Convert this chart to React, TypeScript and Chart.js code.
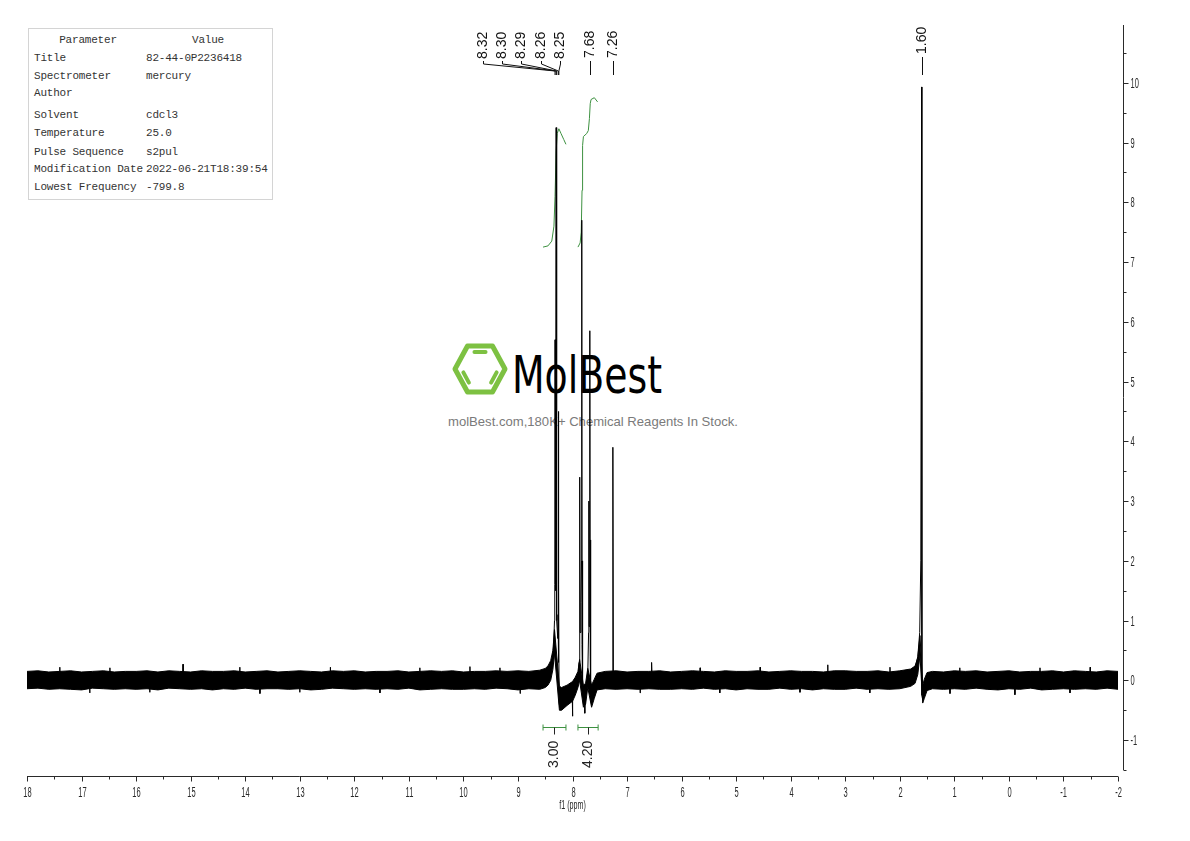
import React, { useEffect, useRef } from "react";
import { Chart, registerables } from "chart.js";
Chart.register(...registerables);

// ---------- tick labels ----------
const xTickLabels = [18, 17, 16, 15, 14, 13, 12, 11, 10, 9, 8, 7, 6, 5, 4, 3, 2, 1, 0, -1, -2];
const yTickLabels = [-1, 0, 1, 2, 3, 4, 5, 6, 7, 8, 9, 10];
const xAxisTitle = "f1 (ppm)";

// ---------- baseline noise envelope: [ppm, upper, lower] ----------
const noiseBand: [number, number, number][] = [
  [18.0, 0.15, -0.14], [17.8, 0.16, -0.13], [17.6, 0.14, -0.15], [17.4, 0.15, -0.14],
  [17.2, 0.16, -0.15], [17.0, 0.14, -0.16], [16.8, 0.15, -0.13], [16.6, 0.16, -0.14],
  [16.4, 0.14, -0.15], [16.2, 0.15, -0.14], [16.0, 0.15, -0.15], [15.8, 0.16, -0.14],
  [15.6, 0.14, -0.16], [15.4, 0.16, -0.13], [15.2, 0.15, -0.14], [15.0, 0.14, -0.15],
  [14.8, 0.16, -0.14], [14.6, 0.15, -0.16], [14.4, 0.15, -0.14], [14.2, 0.16, -0.15],
  [14.0, 0.14, -0.13], [13.8, 0.15, -0.15], [13.6, 0.16, -0.14], [13.4, 0.14, -0.14],
  [13.2, 0.15, -0.15], [13.0, 0.16, -0.14], [12.8, 0.15, -0.16], [12.6, 0.14, -0.15],
  [12.4, 0.16, -0.13], [12.2, 0.15, -0.14], [12.0, 0.16, -0.15], [11.8, 0.14, -0.14],
  [11.6, 0.15, -0.15], [11.4, 0.15, -0.14], [11.2, 0.16, -0.15], [11.0, 0.14, -0.13],
  [10.8, 0.15, -0.16], [10.6, 0.16, -0.15], [10.4, 0.15, -0.14], [10.2, 0.16, -0.15],
  [10.0, 0.14, -0.15], [9.8, 0.15, -0.14], [9.6, 0.15, -0.15], [9.4, 0.16, -0.13],
  [9.2, 0.15, -0.14], [9.0, 0.16, -0.16], [8.8, 0.15, -0.14], [8.6, 0.17, -0.15],
  [8.5, 0.2, -0.12], [8.45, 0.24, -0.08], [8.4, 0.33, 0.0], [8.36, 0.5, 0.18], [8.33, 0.85, 0.45],
  [8.24, -0.1, -0.5], [8.2, -0.12, -0.5], [8.1, -0.08, -0.42], [8.0, -0.02, -0.35],
  [7.95, 0.05, -0.25], [7.9, 0.15, -0.12], [7.87, 0.35, 0.0],
  [7.8, -0.08, -0.45], [7.76, -0.05, -0.4], [7.72, 0.2, -0.12],
  [7.65, -0.08, -0.45], [7.6, 0.02, -0.3], [7.55, 0.12, -0.16],
  [7.4, 0.15, -0.14], [7.2, 0.16, -0.15], [7.0, 0.14, -0.14], [6.8, 0.15, -0.15],
  [6.6, 0.15, -0.14], [6.4, 0.16, -0.15], [6.2, 0.14, -0.15], [6.0, 0.15, -0.14],
  [5.8, 0.16, -0.15], [5.6, 0.15, -0.13], [5.4, 0.14, -0.15], [5.2, 0.16, -0.14],
  [5.0, 0.15, -0.16], [4.8, 0.15, -0.14], [4.6, 0.16, -0.15], [4.4, 0.14, -0.15],
  [4.2, 0.15, -0.13], [4.0, 0.16, -0.15], [3.8, 0.15, -0.14], [3.6, 0.15, -0.16],
  [3.4, 0.14, -0.14], [3.2, 0.16, -0.15], [3.0, 0.16, -0.15], [2.8, 0.15, -0.13],
  [2.6, 0.15, -0.15], [2.4, 0.16, -0.14], [2.2, 0.14, -0.15], [2.0, 0.16, -0.14],
  [1.8, 0.19, -0.1],
  [1.72, 0.24, -0.05], [1.67, 0.38, 0.1], [1.63, 0.75, 0.42],
  [1.58, -0.08, -0.38], [1.55, 0.02, -0.3], [1.5, 0.13, -0.17],
  [1.4, 0.15, -0.14], [1.2, 0.14, -0.15], [1.0, 0.16, -0.14], [0.8, 0.15, -0.15],
  [0.6, 0.16, -0.13], [0.4, 0.14, -0.15], [0.2, 0.15, -0.16], [0.0, 0.16, -0.14],
  [-0.2, 0.14, -0.15], [-0.4, 0.15, -0.13], [-0.6, 0.15, -0.16], [-0.8, 0.16, -0.15],
  [-1.0, 0.14, -0.14], [-1.2, 0.16, -0.15], [-1.4, 0.15, -0.14], [-1.6, 0.14, -0.15],
  [-1.8, 0.16, -0.13], [-2.0, 0.15, -0.15],
];

// ---------- spectrum trace (peaks and noise spikes): [ppm, intensity] ----------
const spectrum: [number, number][] = [
  [18.0, 0.0], [17.404, 0.0], [17.4, 0.22], [17.396, 0.0], [16.854, 0.0], [16.85, -0.21], [16.846, 0.0],
  [16.484, 0.0], [16.48, 0.21], [16.476, 0.0], [15.754, 0.0], [15.75, -0.2], [15.746, 0.0],
  [15.144, 0.0], [15.14, 0.27], [15.136, 0.0], [14.104, 0.0], [14.1, 0.22], [14.096, 0.0],
  [13.734, 0.0], [13.73, -0.22], [13.726, 0.0], [13.004, 0.0], [13.0, -0.2], [12.996, 0.0],
  [12.444, 0.0], [12.44, 0.22], [12.436, 0.0], [11.534, 0.0], [11.53, -0.21], [11.526, 0.0],
  [10.804, 0.0], [10.8, 0.21], [10.796, 0.0], [9.884, 0.0], [9.88, 0.23], [9.876, 0.0],
  [9.334, 0.0], [9.33, 0.21], [9.326, 0.0], [8.964, 0.0], [8.96, -0.22], [8.956, 0.0],
  [8.5, 0.05], [8.42, 0.15], [8.37, 0.3], [8.345, 0.6], [8.33, 1.0], [8.325, 1.6],
  [8.32, 5.7], [8.314, 1.5], [8.306, 2.4], [8.3, 9.25], [8.296, 1.6], [8.29, 4.2],
  [8.285, 1.0], [8.27, 0.7], [8.265, 1.1], [8.26, 4.5], [8.256, 0.3], [8.25, 1.6],
  [8.246, -0.35], [8.235, -0.45], [8.2, -0.4], [8.1, -0.3], [8.005, -0.25], [8.0, -0.6],
  [7.995, -0.25], [7.95, -0.12], [7.9, 0.05], [7.88, 0.3], [7.87, 0.6], [7.865, 3.4],
  [7.86, 0.8], [7.845, 1.3], [7.835, 2.0], [7.83, 7.7], [7.825, 0.6], [7.818, 2.0],
  [7.812, -0.2], [7.8, -0.3], [7.78, -0.35], [7.775, -0.55], [7.77, -0.3], [7.75, -0.22],
  [7.72, 0.1], [7.705, 0.8], [7.7, 3.0], [7.695, 0.9], [7.685, 1.5], [7.68, 5.85],
  [7.675, 0.4], [7.67, 2.35], [7.665, -0.3], [7.65, -0.4], [7.62, -0.25], [7.58, -0.1],
  [7.5, 0.0], [7.27, 0.05], [7.26, 3.9], [7.25, 0.0],
  [6.764, 0.0], [6.76, -0.21], [6.756, 0.0], [6.56, 0.05], [6.55, 0.3], [6.54, 0.0],
  [5.664, 0.0], [5.66, 0.21], [5.656, 0.0], [5.304, 0.0], [5.3, -0.21], [5.296, 0.0],
  [4.564, 0.0], [4.56, 0.22], [4.556, 0.0], [3.834, 0.0], [3.83, -0.2], [3.826, 0.0],
  [3.324, 0.0], [3.32, 0.26], [3.316, 0.0], [2.554, 0.0], [2.55, -0.21], [2.546, 0.0],
  [2.184, 0.0], [2.18, 0.22], [2.176, 0.0],
  [1.8, 0.05], [1.72, 0.2], [1.67, 0.4], [1.635, 0.8], [1.615, 2.0], [1.6, 9.93],
  [1.595, -0.25], [1.58, -0.32], [1.55, -0.18], [1.5, 0.0],
  [1.084, 0.0], [1.08, -0.22], [1.076, 0.0], [0.904, 0.0], [0.9, 0.21], [0.896, 0.0],
  [-0.106, 0.0], [-0.11, -0.24], [-0.114, 0.0], [-0.566, 0.0], [-0.57, 0.21], [-0.574, 0.0],
  [-1.116, 0.0], [-1.12, -0.21], [-1.124, 0.0], [-1.486, 0.0], [-1.49, 0.22], [-1.494, 0.0],
  [-2.0, 0.0],
];

// ---------- integral curves: [ppm, level] ----------
const integral1: [number, number][] = [
  [8.54, 7.25], [8.45, 7.27], [8.38, 7.35], [8.34, 7.6], [8.32, 8.1], [8.3, 8.85],
  [8.28, 9.15], [8.25, 9.23], [8.21, 9.15], [8.16, 9.05], [8.12, 8.97],
];
const integral2: [number, number][] = [
  [7.9, 7.25], [7.86, 7.32], [7.84, 7.5], [7.825, 8.2], [7.815, 8.95], [7.8, 9.1],
  [7.74, 9.15], [7.71, 9.2], [7.69, 9.4], [7.675, 9.65], [7.66, 9.72], [7.6, 9.75], [7.54, 9.68],
];
const integralRanges: [number, number][] = [[8.54, 8.12], [7.9, 7.53]];
const integralValues = ["3.00", "4.20"];

// ---------- peak picking labels ----------
const peakGroupLabels = [8.32, 8.3, 8.29, 8.26, 8.25];
const peakSingleLabels = [7.68, 7.26, 1.6];

// ---------- parameter table ----------
const paramNames = ["Title", "Spectrometer", "Author", "Solvent", "Temperature", "Pulse Sequence", "Modification Date", "Lowest Frequency"];
const paramValues = ["82-44-0P2236418", "mercury", "", "cdcl3", "25.0", "s2pul", "2022-06-21T18:39:54", "-799.8"];

const AXIS_COLOR = "#2a2a2a";
const GREEN = "#3d9140";

function condensedText(ctx: CanvasRenderingContext2D, text: string, x: number, y: number, align: CanvasTextAlign, sx = 0.5) {
  ctx.save();
  ctx.translate(x, y);
  ctx.scale(sx, 1);
  ctx.textAlign = align;
  ctx.textBaseline = "middle";
  ctx.fillText(text, 0, 0);
  ctx.restore();
}

function seg(ctx: CanvasRenderingContext2D, pts: number[][]) {
  ctx.beginPath();
  pts.forEach((p, i) => (i === 0 ? ctx.moveTo(p[0], p[1]) : ctx.lineTo(p[0], p[1])));
  ctx.stroke();
}

const nmrPlugin = {
  id: "nmrAxes",
  afterDatasetsDraw(chart: any) {
    const ctx: CanvasRenderingContext2D = chart.ctx;
    const ca = chart.chartArea;
    const xs = chart.scales.x;
    const ys = chart.scales.y;
    ctx.save();
    ctx.lineWidth = 1;
    ctx.strokeStyle = AXIS_COLOR;
    ctx.fillStyle = AXIS_COLOR;

    // ---- X axis ----
    const axY = Math.round(ca.bottom + 6) + 0.5;
    const xa = xs.getPixelForValue(xTickLabels[0]);
    const xb = xs.getPixelForValue(xTickLabels[xTickLabels.length - 1]);
    seg(ctx, [[xa, axY], [xb, axY]]);
    ctx.font = '15px "Liberation Sans"';
    xTickLabels.forEach((v, i) => {
      const px = Math.round(xs.getPixelForValue(v)) + 0.5;
      seg(ctx, [[px, axY], [px, axY + 5]]);
      condensedText(ctx, String(v), px, axY + 16, "center");
      if (i < xTickLabels.length - 1) {
        const m = (v + xTickLabels[i + 1]) / 2;
        const pm = Math.round(xs.getPixelForValue(m)) + 0.5;
        seg(ctx, [[pm, axY], [pm, axY + 3]]);
      }
    });
    ctx.font = '13px "Liberation Sans"';
    condensedText(ctx, xAxisTitle, xs.getPixelForValue(8), axY + 29, "center", 0.55);

    // ---- Y axis (right) ----
    const axX = Math.round(ca.right + 5) + 0.5;
    seg(ctx, [[axX, ca.top + 2], [axX, ys.getPixelForValue(-1.5)]]);
    ctx.font = '15px "Liberation Sans"';
    yTickLabels.forEach((v) => {
      const py = Math.round(ys.getPixelForValue(v)) + 0.5;
      seg(ctx, [[axX, py], [axX + 5, py]]);
      condensedText(ctx, String(v), axX + 7, py, "left");
    });
    const yMinor = [yTickLabels[0] - 0.5, ...yTickLabels.map((v) => v + 0.5)];
    yMinor.forEach((v) => {
      const py = Math.round(ys.getPixelForValue(v)) + 0.5;
      seg(ctx, [[axX, py], [axX + 3, py]]);
    });

    // ---- peak labels ----
    ctx.strokeStyle = "#111";
    ctx.fillStyle = "#111";
    ctx.font = '14px "Liberation Sans"';
    const drawRot = (text: string, x: number, yBottom: number) => {
      ctx.save();
      ctx.translate(x, yBottom);
      ctx.rotate(-Math.PI / 2);
      ctx.textAlign = "left";
      ctx.textBaseline = "middle";
      ctx.fillText(text, 0, 0);
      ctx.restore();
    };
    const n = peakGroupLabels.length;
    const anchor = xs.getPixelForValue(peakGroupLabels[n - 1]) + 1;
    peakGroupLabels.forEach((v, i) => {
      const lx = Math.round(anchor - (n - 1 - i) * 19.2) + 0.5;
      const px = xs.getPixelForValue(v);
      drawRot(v.toFixed(2), lx, 59);
      seg(ctx, [[lx, 61], [lx, 64], [px, 71], [px, 75]]);
    });
    peakSingleLabels.forEach((v) => {
      const px = Math.round(xs.getPixelForValue(v)) + 0.5;
      const bottom = v < 3 ? 54 : 58;
      drawRot(v.toFixed(2), px, bottom);
      seg(ctx, [[px, bottom + 3], [px, 75]]);
    });

    // ---- integral brackets ----
    integralRanges.forEach((r, i) => {
      const xA = xs.getPixelForValue(r[0]);
      const xB = xs.getPixelForValue(r[1]);
      const cx = Math.round((xA + xB) / 2) + 0.5;
      const by = 727.5;
      ctx.strokeStyle = GREEN;
      seg(ctx, [[xA, by], [xB, by]]);
      seg(ctx, [[xA, by - 3], [xA, by + 3]]);
      seg(ctx, [[xB, by - 3], [xB, by + 3]]);
      ctx.strokeStyle = "#222";
      seg(ctx, [[cx, by], [cx, by + 7]]);
      ctx.fillStyle = "#222";
      drawRot(integralValues[i], cx, 768);
    });
    ctx.restore();
  },
};

function Watermark() {
  const cx = 480;
  const cy = 369;
  const r = 25;
  const ky = 1.06;
  const verts = [0, 60, 120, 180, 240, 300].map((a) => {
    const t = (a * Math.PI) / 180;
    return [cx + r * Math.cos(t), cy + r * Math.sin(t) * ky];
  });
  const inner = (a: number[], b: number[]) => {
    const s = 0.74;
    const p = [cx + (a[0] - cx) * s, cy + (a[1] - cy) * s];
    const q = [cx + (b[0] - cx) * s, cy + (b[1] - cy) * s];
    const f = 0.2;
    return [p[0] + (q[0] - p[0]) * f, p[1] + (q[1] - p[1]) * f, q[0] + (p[0] - q[0]) * f, q[1] + (p[1] - q[1]) * f];
  };
  const bars = [inner(verts[4], verts[5]), inner(verts[2], verts[3]), inner(verts[0], verts[1])];
  return (
    <svg width={1190} height={841} style={{ position: "absolute", left: 0, top: 0 }}>
      <polygon points={verts.map((v) => v.join(",")).join(" ")} fill="none" stroke="#7dc142" strokeWidth={5} strokeLinejoin="round" />
      {bars.map((b, i) => (
        <line key={i} x1={b[0]} y1={b[1]} x2={b[2]} y2={b[3]} stroke="#7dc142" strokeWidth={4} strokeLinecap="round" />
      ))}
      <text x={512} y={393} fontFamily="DejaVu Sans" fontSize={52} textLength={150} lengthAdjust="spacingAndGlyphs" fill="#000">
        MolBest
      </text>
      <text x={448} y={426} fontFamily="Liberation Sans" fontSize={13} textLength={290} lengthAdjust="spacingAndGlyphs" fill="#7a7a7a">
        molBest.com,180K+ Chemical Reagents In Stock.
      </text>
    </svg>
  );
}

function ParamTable() {
  const rowY = [30, 48, 65, 87, 105, 124, 141, 159];
  const base: React.CSSProperties = {
    position: "absolute",
    lineHeight: "14px",
    whiteSpace: "pre",
    fontFamily: '"Liberation Mono", monospace',
    fontSize: 11,
    letterSpacing: "-0.2px",
    color: "#333",
  };
  return (
    <div style={{ position: "absolute", left: 28, top: 28, width: 243, height: 170, border: "1px solid #d4d4d4", background: "#fff" }}>
      <div style={{ ...base, top: 12 - 8, left: 0, width: 118, textAlign: "center" }}>Parameter</div>
      <div style={{ ...base, top: 12 - 8, left: 118, width: 122, textAlign: "center" }}>Value</div>
      {paramNames.map((nm, i) => (
        <React.Fragment key={nm}>
          <div style={{ ...base, top: rowY[i] - 8, left: 5 }}>{nm}</div>
          <div style={{ ...base, top: rowY[i] - 8, left: 117 }}>{paramValues[i]}</div>
        </React.Fragment>
      ))}
    </div>
  );
}

export default function App() {
  const ref = useRef<HTMLCanvasElement | null>(null);
  useEffect(() => {
    if (!ref.current) return;
    const line = (pts: number[][], color: string) => ({
      data: pts.map((p) => ({ x: p[0], y: p[1] })),
      borderColor: color,
      borderWidth: 1,
      pointRadius: 0,
      fill: false,
      tension: 0,
    });
    const chart = new Chart(ref.current, {
      type: "line",
      data: {
        datasets: [
          {
            data: noiseBand.map((p) => ({ x: p[0], y: p[1] })),
            borderColor: "#000",
            backgroundColor: "#000",
            borderWidth: 1,
            pointRadius: 0,
            fill: "+1",
            tension: 0,
          },
          {
            data: noiseBand.map((p) => ({ x: p[0], y: p[2] })),
            borderColor: "#000",
            borderWidth: 1,
            pointRadius: 0,
            fill: false,
            tension: 0,
          },
          line(spectrum, "#000"),
          line(integral1, GREEN),
          line(integral2, GREEN),
        ] as any,
      },
      options: {
        responsive: false,
        animation: false,
        layout: { padding: { left: 27, right: 72, top: 23, bottom: 71 } },
        scales: {
          x: { type: "linear", reverse: true, min: -2, max: 18, display: false },
          y: { type: "linear", min: -1.5, max: 11, display: false },
        },
        plugins: { legend: { display: false }, tooltip: { enabled: false } },
      },
      plugins: [nmrPlugin],
    });
    return () => chart.destroy();
  }, []);
  return (
    <div style={{ position: "absolute", left: 0, top: 0, width: 1190, height: 841, background: "#fff", overflow: "hidden" }}>
      <Watermark />
      <canvas ref={ref} width={1190} height={841} style={{ position: "absolute", left: 0, top: 0 }} />
      <ParamTable />
    </div>
  );
}
